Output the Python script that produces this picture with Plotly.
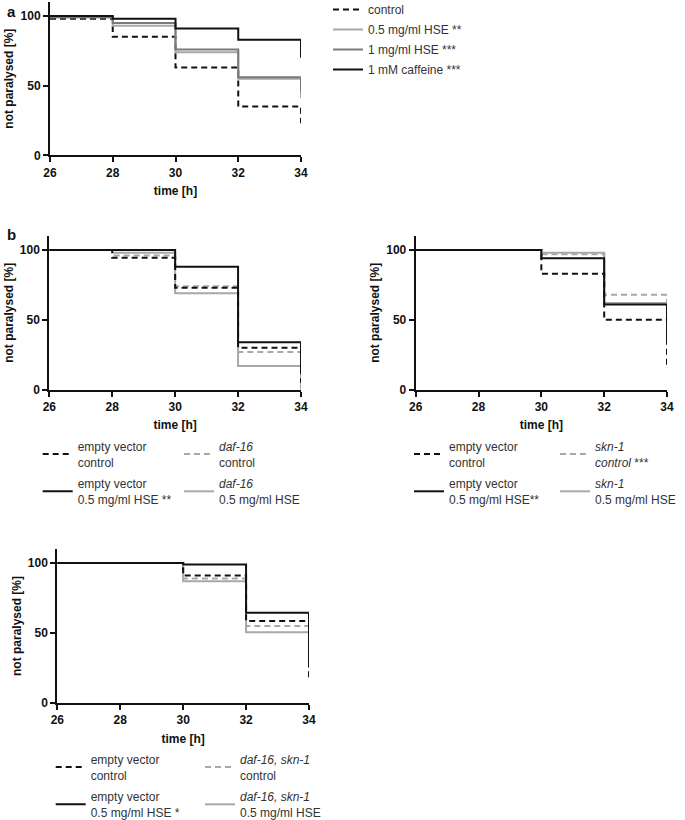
import plotly.graph_objects as go

# ---------------- data ----------------
time_h = [26, 28, 30, 32, 34]

# panel a
a_names = ["control", "0.5 mg/ml HSE **", "1 mg/ml HSE ***", "1 mM caffeine ***"]
a_control = [98, 85, 63, 35, 23]
a_hse05 = [99, 93, 74, 55, 41]
a_hse1 = [99, 95, 76, 56, 45]
a_caffeine = [100, 98, 91, 83, 70]

# panel b left (daf-16)
bl_names = ["empty vector<br>control", "empty vector<br>0.5 mg/ml HSE **",
            "<i>daf-16</i><br>control", "<i>daf-16</i><br>0.5 mg/ml HSE"]
bl_ev_control = [100, 94.5, 73, 30, 5]
bl_ev_hse = [100, 100, 88, 34, 15]
bl_daf_control = [100, 96, 74, 27, 2]
bl_daf_hse = [100, 98, 69, 17, 0]

# panel b right (skn-1)
br_names = ["empty vector<br>control", "empty vector<br>0.5 mg/ml HSE**",
            "<i>skn-1</i><br><i>control</i> ***", "<i>skn-1</i><br>0.5 mg/ml HSE"]
br_ev_control = [100, 100, 83, 50, 15]
br_ev_hse = [100, 100, 94, 61, 33]
br_skn_control = [100, 100, 97, 68, 62]
br_skn_hse = [100, 100, 98, 62, 40]

# panel b bottom (daf-16, skn-1)
bb_names = ["empty vector<br>control", "empty vector<br>0.5 mg/ml HSE *",
            "<i>daf-16, skn-1</i><br>control", "<i>daf-16, skn-1</i><br>0.5 mg/ml HSE"]
bb_ev_control = [100, 100, 91, 58.5, 16]
bb_ev_hse = [100, 100, 99, 64.5, 28]
bb_ds_control = [100, 100, 89, 55, 20]
bb_ds_hse = [100, 100, 87, 50.5, 25]

x_ticks = [26, 28, 30, 32, 34]
y_ticks = [0, 50, 100]

# ---------------- styles ----------------
BLACK = "#111111"
LGRAY = "#a8a8a8"
DGRAY = "#7a7a7a"
DASH = "6px,4px"
LW = 2

fig = go.Figure()


def add(x_ax, y_ax, ys, name, color, dash, legend):
    fig.add_trace(go.Scatter(
        x=time_h, y=ys, mode="lines", line_shape="hv",
        line=dict(color=color, width=LW, dash=dash),
        name=name, xaxis=x_ax, yaxis=y_ax, legend=legend,
        legendgroup=name + legend, showlegend=True))


# panel a
add("x", "y", a_control, a_names[0], BLACK, DASH, "legend")
add("x", "y", a_hse05, a_names[1], LGRAY, "solid", "legend")
add("x", "y", a_hse1, a_names[2], DGRAY, "solid", "legend")
add("x", "y", a_caffeine, a_names[3], BLACK, "solid", "legend")

# panel b left
add("x2", "y2", bl_daf_control, bl_names[2], LGRAY, DASH, "legend3")
add("x2", "y2", bl_daf_hse, bl_names[3], LGRAY, "solid", "legend3")
add("x2", "y2", bl_ev_control, bl_names[0], BLACK, DASH, "legend2")
add("x2", "y2", bl_ev_hse, bl_names[1], BLACK, "solid", "legend2")

# panel b right
add("x3", "y3", br_skn_control, br_names[2], LGRAY, DASH, "legend5")
add("x3", "y3", br_skn_hse, br_names[3], LGRAY, "solid", "legend5")
add("x3", "y3", br_ev_control, br_names[0], BLACK, DASH, "legend4")
add("x3", "y3", br_ev_hse, br_names[1], BLACK, "solid", "legend4")

# panel bottom
add("x4", "y4", bb_ds_control, bb_names[2], LGRAY, DASH, "legend7")
add("x4", "y4", bb_ds_hse, bb_names[3], LGRAY, "solid", "legend7")
add("x4", "y4", bb_ev_control, bb_names[0], BLACK, DASH, "legend6")
add("x4", "y4", bb_ev_hse, bb_names[1], BLACK, "solid", "legend6")

W, H = 685, 820


def xdom(l, r):
    return [l / W, r / W]


def ydom(bottom_px, top_px):
    return [1 - bottom_px / H, 1 - top_px / H]


FONT = "Arial, Liberation Sans, sans-serif"
tickfont = dict(family=FONT, size=12, color=BLACK, weight="bold")
titlefont = dict(family=FONT, size=12, color=BLACK, weight="bold")


def xaxis(dom, anchor):
    return dict(domain=dom, anchor=anchor, range=[26, 34], tickvals=x_ticks,
                showline=True, linecolor=BLACK, linewidth=2, ticks="outside",
                ticklen=5, tickwidth=2, tickcolor=BLACK, showgrid=False,
                zeroline=False, tickfont=tickfont, automargin=False,
                title=dict(text="time [h]", font=titlefont, standoff=8))


def yaxis(dom, anchor):
    return dict(domain=dom, anchor=anchor, range=[0, 110], tickvals=y_ticks,
                showline=True, linecolor=BLACK, linewidth=2, ticks="outside",
                ticklen=5, tickwidth=2, tickcolor=BLACK, showgrid=False,
                zeroline=False, tickfont=tickfont, automargin=False,
                title=dict(text="not paralysed [%]", font=titlefont, standoff=4))


legfont = dict(family=FONT, size=12, color="#333333")


def leg(xpx, ypx, gap=3, order="grouped"):
    return dict(x=(xpx - 40) / W, y=1 - ypx / H, xanchor="left", yanchor="top",
                bgcolor="rgba(0,0,0,0)", borderwidth=0, font=legfont,
                traceorder=order, valign="middle", tracegroupgap=gap,
                itemclick=False, itemdoubleclick=False)


fig.update_layout(
    width=W, height=H, margin=dict(l=0, r=0, t=0, b=0, autoexpand=False),
    plot_bgcolor="white", paper_bgcolor="white",
    xaxis=xaxis(xdom(50, 301), "y"), yaxis=yaxis(ydom(155.3, 2), "x"),
    xaxis2=xaxis(xdom(49.3, 301), "y2"), yaxis2=yaxis(ydom(389.7, 236), "x2"),
    xaxis3=xaxis(xdom(415.7, 667), "y3"), yaxis3=yaxis(ydom(389.7, 236), "x3"),
    xaxis4=xaxis(xdom(57.3, 309), "y4"), yaxis4=yaxis(ydom(703, 549), "x4"),
    legend=leg(368, -5, 1),
    legend2=leg(77.7, 432),
    legend3=leg(219, 432),
    legend4=leg(449, 432),
    legend5=leg(595, 432),
    legend6=leg(90.7, 745),
    legend7=leg(240, 745),
    annotations=[
        dict(text="a", x=5 / W, y=1 - 1 / H, xref="paper", yref="paper",
             xanchor="left", yanchor="top", showarrow=False,
             font=dict(family=FONT, size=15, color=BLACK, weight="bold")),
        dict(text="b", x=5 / W, y=1 - 224 / H, xref="paper", yref="paper",
             xanchor="left", yanchor="top", showarrow=False,
             font=dict(family=FONT, size=15, color=BLACK, weight="bold")),
    ],
)

fig.write_html("out.html", config={"displayModeBar": False},
               post_script="document.body.style.margin='0';document.body.style.padding='0';")
